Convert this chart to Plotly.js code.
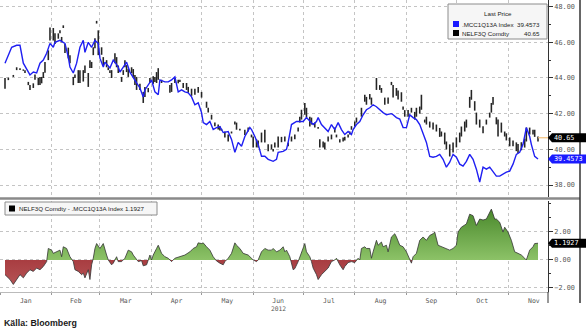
<!DOCTYPE html>
<html><head><meta charset="utf-8">
<script src="https://cdn.plot.ly/plotly-3.0.1.min.js"></script>
<style>html,body{margin:0;padding:0;background:#fff;}#chart{width:586px;height:333px;}</style>
</head><body><div id="chart"></div><script>
const YEAR = '2012';
const mccName = '.MCC1Q13A Index';
const nelfName = 'NELF3Q Comdty';
const mccLast = 39.4573;
const nelfLast = 40.65;
const spreadLast = 1.1927;
const sourceText = 'Källa: Bloomberg';

const mccDates = ['01-04','01-08','01-11','01-13','01-15','01-18','01-19','01-21','01-23','01-25','01-27','01-29','01-31',
'02-02','02-03','02-06','02-08','02-09','02-11','02-12','02-14','02-16','02-18','02-20','02-21','02-23','02-25','02-27','02-29',
'03-01','03-03','03-04','03-07','03-09','03-10','03-12','03-13','03-15','03-17','03-19','03-21','03-23','03-25','03-27','03-28','03-30',
'04-01','04-03','04-05','04-06','04-09','04-11','04-13','04-15','04-17','04-19','04-21','04-23','04-25','04-27','04-29',
'05-01','05-02','05-04','05-06','05-08','05-10','05-12','05-14','05-17','05-19','05-21','05-23','05-25','05-27','05-30','05-31',
'06-02','06-04','06-06','06-08','06-10','06-13','06-15','06-16','06-19','06-21','06-22','06-24','06-27','06-29',
'07-01','07-03','07-05','07-07','07-09','07-10','07-12','07-14','07-16','07-18','07-20','07-22','07-24','07-26','07-28','07-30','07-31',
'08-02','08-04','08-06','08-08','08-10','08-12','08-14','08-16','08-18','08-20','08-23','08-24','08-26','08-28','08-30',
'09-01','09-03','09-05','09-07','09-09','09-11','09-13','09-15','09-17','09-19','09-21','09-23','09-25','09-27','09-29',
'10-01','10-03','10-05','10-07','10-09','10-11','10-13','10-15','10-17','10-19','10-21','10-23','10-25','10-27','10-29','10-31',
'11-02','11-04','11-06','11-08','11-10','11-12','11-14','11-15','11-17','11-19'];
const mccValues = [44.83,45.72,45.83,45.83,44.83,44.33,44.17,44.33,44.28,44.83,45.0,45.39,45.94,
45.72,46.0,46.11,46.0,45.94,45.17,44.61,44.28,44.83,45.72,46.11,45.44,46.0,45.72,46.11,45.94,
45.11,44.61,44.89,44.56,45.0,44.89,44.61,44.33,44.61,44.89,44.33,44.06,43.72,43.44,42.94,43.33,43.61,
43.89,43.22,43.06,43.89,43.78,43.78,43.89,44.06,43.22,43.33,43.22,43.17,42.94,42.5,42.61,
42.06,41.5,41.39,41.56,41.11,41.22,41.28,40.94,41.0,40.56,39.83,40.39,40.17,40.72,41.22,41.11,
40.72,40.28,39.61,39.61,39.44,39.33,39.44,39.83,39.89,40.0,40.39,41.39,41.56,41.56,
41.56,41.78,41.56,41.39,41.56,41.78,41.39,41.22,41.0,41.39,41.11,41.5,41.11,40.83,41.0,40.83,41.11,
41.39,41.56,41.94,42.22,42.33,42.5,42.39,42.22,42.06,41.94,42.0,41.94,41.78,41.7,41.22,
41.22,41.94,41.78,41.67,41.39,40.94,40.39,39.61,39.56,39.61,39.72,39.44,39.0,39.28,39.72,
39.56,39.17,39.06,39.33,39.72,39.44,38.89,38.17,39.0,38.89,39.0,38.78,38.5,38.5,38.61,38.72,
38.78,39.17,39.72,39.83,40.28,41.22,40.72,40.28,39.61,39.4573];

const nelfDates = ['01-04','01-06','01-09','01-11','01-13','01-15','01-16','01-18','01-19','01-21','01-22','01-24','01-25','01-26','01-27','01-28','01-30','01-31',
'02-02','02-03','02-05','02-06','02-07','02-08','02-09','02-11','02-12','02-14','02-15','02-17','02-18','02-20','02-21','02-23','02-24','02-25','02-26','02-27','02-28','02-29',
'03-02','03-03','03-05','03-06','03-07','03-08','03-10','03-11','03-12','03-14','03-15','03-16','03-17','03-18','03-20','03-21','03-22','03-23','03-25','03-27','03-28','03-30','03-31',
'04-02','04-03','04-04','04-05','04-07','04-12','04-13','04-15','04-17','04-18','04-20','04-22','04-23','04-25','04-27','04-29',
'05-01','05-04','05-05','05-07','05-09','05-11','05-12','05-13','05-15','05-17','05-19','05-21','05-22','05-24','05-27','05-29','05-31',
'06-01','06-03','06-04','06-06','06-08','06-10','06-12','06-13','06-14','06-16','06-18','06-20','06-22','06-24','06-26','06-28','06-29','06-30',
'07-02','07-03','07-05','07-06','07-08','07-10','07-11','07-13','07-14','07-16','07-18','07-20','07-21','07-23','07-25','07-26','07-28','07-29','07-30',
'08-01','08-02','08-05','08-07','08-08','08-10','08-11','08-14','08-16','08-17','08-19','08-21','08-23','08-24','08-26','08-27','08-29','08-30','08-31',
'09-02','09-04','09-06','09-07','09-09','09-10','09-12','09-13','09-15','09-17','09-19','09-21','09-22','09-24','09-25','09-27','09-29',
'10-01','10-03','10-04','10-06','10-07','10-09','10-10','10-12','10-13','10-15','10-17','10-19','10-21','10-22','10-23','10-25','10-26','10-28','10-30','10-31',
'11-02','11-04','11-06','11-07','11-09','11-11','11-12','11-14','11-16','11-17','11-19'];
const nelfLow = [43.40,43.88,44.06,44.44,44.45,44.40,44.28,43.60,43.33,43.44,43.90,43.60,43.60,43.70,44.00,44.30,45.00,46.10,
46.10,45.90,46.20,46.50,46.00,46.80,45.40,45.10,44.83,43.60,44.00,43.72,43.72,43.80,44.28,43.50,44.56,44.56,45.28,45.67,47.05,45.28,
45.30,44.72,44.60,44.44,44.28,44.00,44.83,44.60,44.28,43.78,44.17,44.60,44.33,44.06,44.28,44.06,43.60,43.33,43.33,42.60,42.94,43.20,43.72,
43.67,43.78,43.72,43.90,43.72,43.17,43.22,43.72,43.70,43.78,43.44,43.33,43.17,43.00,43.06,43.17,
42.90,42.33,42.06,41.67,41.30,41.11,41.05,41.05,40.67,40.44,40.89,41.39,41.10,41.05,40.80,41.00,40.67,
40.11,40.11,40.10,40.39,40.39,39.90,40.00,39.88,40.11,40.10,40.40,40.44,40.17,40.44,40.56,41.00,41.50,41.67,
41.94,41.78,41.28,41.39,41.22,41.15,40.11,40.11,40.00,40.44,40.56,40.94,40.67,40.39,40.44,40.50,40.67,40.83,41.10,
41.28,41.50,41.83,42.67,42.50,42.80,42.50,43.33,43.33,43.17,42.50,42.55,43.60,42.90,43.00,42.80,42.67,42.22,41.83,
41.83,42.06,41.67,41.83,42.00,42.22,41.50,41.39,41.22,41.11,41.00,40.70,40.72,40.28,40.00,39.60,39.83,
40.11,40.39,40.72,41.00,41.22,42.33,42.78,42.17,41.39,41.22,40.90,41.39,41.78,42.06,42.50,41.40,40.72,40.94,40.72,40.50,
40.17,40.17,39.90,39.80,39.95,40.10,40.44,40.83,40.83,40.70,40.44];
const nelfHigh = [44.00,44.02,44.17,44.60,44.55,44.48,44.44,43.78,43.60,43.70,44.20,44.00,44.06,44.06,44.33,44.90,45.55,46.83,
46.80,46.50,46.50,46.67,46.30,46.95,45.90,45.70,45.28,44.06,44.20,44.44,44.44,44.44,44.70,44.28,45.00,44.90,45.72,46.22,47.20,46.67,
45.72,45.17,45.00,44.60,44.44,44.44,45.39,45.17,44.70,44.06,44.44,45.00,44.72,44.50,44.60,44.50,44.17,44.06,43.67,43.22,43.50,43.44,44.00,
44.10,44.06,44.33,44.55,43.90,43.60,43.72,44.00,43.90,43.90,43.72,43.72,43.50,43.40,43.40,43.50,
43.22,42.67,42.33,41.94,41.50,41.39,41.30,41.15,41.00,40.83,41.00,41.56,41.50,41.15,41.10,41.22,40.83,
40.72,40.56,40.50,40.94,41.10,40.28,40.28,40.02,40.39,40.72,40.70,40.72,40.39,40.72,40.83,41.22,41.83,42.22,
42.60,42.33,41.83,41.78,41.50,41.25,40.56,40.44,40.39,40.72,40.83,41.22,40.83,40.56,40.67,40.70,40.83,41.00,41.30,
41.56,41.78,42.33,43.06,42.94,43.10,42.90,44.00,43.60,43.44,42.90,42.90,43.78,43.60,43.44,43.30,43.20,42.40,42.20,
42.20,42.33,42.10,42.33,42.40,43.06,41.67,41.83,41.56,41.50,41.39,41.20,41.00,40.94,40.44,40.28,40.39,
40.67,40.94,41.28,41.56,41.67,42.94,43.33,42.70,42.06,41.67,41.30,41.67,42.06,42.60,42.94,41.80,41.67,41.50,41.00,40.90,
40.67,40.50,40.39,40.30,40.40,40.60,41.22,41.22,41.10,41.10,40.72];

const spreadDates = ['01-04','01-07','01-09','01-11','01-13','01-15','01-17','01-19','01-21','01-23','01-25','01-27','01-29','01-30',
'02-01','02-02','02-04','02-06','02-07','02-08','02-10','02-12','02-14','02-15','02-17','02-19','02-20','02-21','02-23','02-24','02-25','02-26','02-27','02-28',
'03-01','03-03','03-05','03-06','03-08','03-09','03-11','03-12','03-14','03-16','03-18','03-20','03-21','03-23','03-24','03-26','03-27','03-29','03-30','03-31',
'04-01','04-02','04-04','04-05','04-07','04-09','04-11','04-13','04-15','04-18','04-21','04-24','04-26','04-28','04-29',
'05-01','05-02','05-04','05-06','05-08','05-10','05-12','05-14','05-15','05-17','05-19','05-21','05-22','05-24','05-26','05-28','05-29',
'06-01','06-03','06-04','06-06','06-08','06-10','06-12','06-13','06-15','06-17','06-19','06-20','06-21','06-23','06-25','06-26','06-28','06-30',
'07-02','07-03','07-05','07-06','07-07','07-09','07-10','07-12','07-14','07-16','07-18','07-20','07-21','07-23','07-25','07-26','07-28','07-30',
'08-01','08-03','08-04','08-05','08-07','08-08','08-10','08-11','08-12','08-14','08-15','08-17','08-18','08-20','08-21','08-22','08-23','08-25','08-26','08-28','08-30',
'09-01','09-03','09-04','09-05','09-07','09-09','09-11','09-13','09-15','09-17','09-18','09-20','09-22','09-24','09-27','09-29',
'10-01','10-02','10-04','10-07','10-09','10-11','10-13','10-15','10-17','10-19','10-22','10-24','10-25','10-27','10-29','10-30',
'11-01','11-03','11-05','11-07','11-09','11-11','11-12','11-14','11-16','11-17','11-19'];
const spreadValues = [-1.05,-1.40,-1.75,-1.40,-1.05,-1.28,-0.94,-0.70,-0.82,-0.58,-0.70,-0.47,-0.12,0.82,
0.70,0.47,0.58,0.70,0.23,0.94,0.82,0.23,-0.12,-0.70,-0.82,-1.05,-0.94,-1.28,-0.70,-1.40,-0.35,0.12,0.82,1.17,
0.82,1.17,0.35,0.00,-0.35,-0.23,0.23,-0.12,-0.12,0.12,0.70,0.58,0.35,0.00,-0.12,-0.05,-0.42,-0.35,0.00,0.35,
0.00,0.35,0.82,1.05,0.47,0.23,0.12,-0.12,0.12,0.23,0.35,0.58,0.82,0.94,1.22,
1.17,1.22,0.94,0.70,0.23,-0.07,-0.23,-0.35,-0.12,0.12,0.47,1.22,1.05,0.82,0.47,0.35,0.35,
0.00,-0.12,0.00,0.58,0.82,0.70,0.70,0.82,0.58,0.70,0.94,0.58,0.70,0.23,-0.70,-0.62,-0.12,0.47,
1.17,0.58,0.23,-0.12,-0.58,-1.05,-1.40,-1.05,-0.82,-0.58,-0.12,0.00,0.12,-0.35,-0.70,-0.47,-0.19,-0.12,
-0.19,0.12,0.00,0.82,0.94,0.82,0.82,0.12,0.58,1.40,1.05,1.28,0.94,1.05,0.58,1.05,1.64,1.87,1.64,1.05,0.94,
0.58,0.00,-0.23,0.23,0.47,1.40,1.64,1.40,1.75,1.87,1.99,1.05,0.94,0.82,0.70,0.82,
1.05,1.99,2.34,2.57,3.27,3.16,2.46,2.92,2.85,2.92,3.63,2.92,2.92,2.69,1.99,2.34,
1.99,1.40,0.58,0.47,0.35,0.12,0.00,0.70,0.94,1.17,1.1927];

const topTickStart = 38, topTickStep = 2;
const bottomTickVals = [-2, 0, 2];

// ---- layout geometry (pixels of the 586x333 frame) ----
const PW = 548, PH = 292;
const px = x => x / PW;
const py = y => (PH - y) / PH;
const d = s => YEAR + '-' + s;
const xStart = d('01-01'), xEnd = d('11-25');
const DAY = 86400000;
const GRID = '#c4c4c4';
const TICKFONT = {family: 'DejaVu Sans Mono, monospace', size: 6.8, color: '#555'};
const LEGFONT = {family: 'Liberation Sans, Arial, sans-serif', size: 6.2, color: '#222'};

const traces = [
  {type: 'bar', x: nelfDates.map(d), base: nelfLow, y: nelfHigh.map((h, i) => h - nelfLow[i]),
   width: 0.95 * DAY, marker: {color: '#262626', line: {width: 0}}, xaxis: 'x', yaxis: 'y', hoverinfo: 'skip'},
  {type: 'scatter', mode: 'lines', x: mccDates.map(d), y: mccValues,
   line: {color: '#1f1ff2', width: 1.4}, xaxis: 'x', yaxis: 'y', hoverinfo: 'skip'},
  {type: 'scatter', mode: 'lines', x: spreadDates.map(d), y: spreadValues, fill: 'tozeroy',
   fillgradient: {type: 'vertical', start: -3.6, stop: 3.6,
     colorscale: [[0, '#c26a6a'], [0.499, '#a83d41'], [0.501, '#8cc267'], [1, '#4a892c']]},
   line: {color: '#333', width: 0.8}, xaxis: 'x2', yaxis: 'y2', hoverinfo: 'skip'}
];

const lastNelfDate = d(nelfDates[nelfDates.length - 1]);
const tagPath = 'M0,0 L4,4.5 L40,4.5 L40,-4.5 L4,-4.5 Z';
const shapes = [
  {type: 'line', xref: 'paper', yref: 'paper', x0: 0, x1: px(580), y0: py(198.5), y1: py(198.5),
   line: {color: '#8a8a8a', width: 2.5}},
  {type: 'line', xref: 'paper', yref: 'paper', x0: px(580), x1: px(580), y0: py(303), y1: 1,
   line: {color: '#333', width: 1.5}},
  {type: 'line', xref: 'paper', yref: 'paper', x0: 1, x1: 1, y0: py(303), y1: py(292),
   line: {color: '#333', width: 1}},
  {type: 'line', xref: 'x', yref: 'y', x0: lastNelfDate, x1: xEnd, y0: nelfLast, y1: nelfLast,
   line: {color: '#f3c27c', width: 1.2}},
  {type: 'path', xref: 'paper', xsizemode: 'pixel', xanchor: 1, yref: 'y', ysizemode: 'pixel', yanchor: nelfLast,
   path: tagPath, fillcolor: '#000', line: {width: 0}},
  {type: 'path', xref: 'paper', xsizemode: 'pixel', xanchor: 1, yref: 'y', ysizemode: 'pixel', yanchor: mccLast,
   path: tagPath, fillcolor: '#1a1aff', line: {width: 0}},
  {type: 'path', xref: 'paper', xsizemode: 'pixel', xanchor: 1, yref: 'y2', ysizemode: 'pixel', yanchor: spreadLast,
   path: tagPath, fillcolor: '#000', line: {width: 0}},
  // top legend box
  {type: 'rect', xref: 'paper', yref: 'paper', x0: px(448), x1: px(547), y0: py(39), y1: py(4),
   fillcolor: '#f6f6f6', line: {color: '#8c8c8c', width: 1}, layer: 'above'},
  {type: 'rect', xref: 'paper', yref: 'paper', x0: px(453), x1: px(459), y0: py(27), y1: py(21),
   fillcolor: '#1a1aff', line: {width: 0}, layer: 'above'},
  {type: 'rect', xref: 'paper', yref: 'paper', x0: px(453), x1: px(459), y0: py(36), y1: py(30),
   fillcolor: '#000', line: {width: 0}, layer: 'above'},
  // bottom legend box
  {type: 'rect', xref: 'paper', yref: 'paper', x0: px(5), x1: px(157), y0: py(215), y1: py(202),
   fillcolor: '#f6f6f6', line: {color: '#8c8c8c', width: 1}, layer: 'above'},
  {type: 'rect', xref: 'paper', yref: 'paper', x0: px(9), x1: px(15), y0: py(211.5), y1: py(205.5),
   fillcolor: '#000', line: {width: 0}, layer: 'above'}
];

const tagFont = {family: 'DejaVu Sans Mono, monospace', size: 6.8, color: '#fff'};
const annotations = [
  {xref: 'paper', yref: 'y', x: 1, y: nelfLast, xanchor: 'left', yanchor: 'middle', xshift: 4,
   text: nelfLast.toFixed(2), showarrow: false, font: tagFont},
  {xref: 'paper', yref: 'y', x: 1, y: mccLast, xanchor: 'left', yanchor: 'middle', xshift: 4,
   text: mccLast.toFixed(4), showarrow: false, font: tagFont},
  {xref: 'paper', yref: 'y2', x: 1, y: spreadLast, xanchor: 'left', yanchor: 'middle', xshift: 4,
   text: spreadLast.toFixed(4), showarrow: false, font: tagFont},
  {xref: 'paper', yref: 'paper', x: px(498), y: py(14), xanchor: 'center', yanchor: 'middle',
   text: 'Last Price', showarrow: false, font: LEGFONT},
  {xref: 'paper', yref: 'paper', x: px(459.5), y: py(24), xanchor: 'left', yanchor: 'middle',
   text: mccName, showarrow: false, font: LEGFONT},
  {xref: 'paper', yref: 'paper', x: px(542), y: py(24), xanchor: 'right', yanchor: 'middle',
   text: mccLast.toFixed(4), showarrow: false, font: LEGFONT},
  {xref: 'paper', yref: 'paper', x: px(459.5), y: py(33), xanchor: 'left', yanchor: 'middle',
   text: nelfName, showarrow: false, font: LEGFONT},
  {xref: 'paper', yref: 'paper', x: px(542), y: py(33), xanchor: 'right', yanchor: 'middle',
   text: nelfLast.toFixed(2), showarrow: false, font: LEGFONT},
  {xref: 'paper', yref: 'paper', x: px(17), y: py(208.5), xanchor: 'left', yanchor: 'middle',
   text: nelfName + ' - ' + mccName + ' ' + spreadLast.toFixed(4), showarrow: false, font: LEGFONT},
  {xref: 'x2', yref: 'paper', x: d('06-16'), y: py(309), xanchor: 'center', yanchor: 'middle',
   text: YEAR, showarrow: false, font: {family: TICKFONT.family, size: 6.3, color: '#555'}},
  {xref: 'paper', yref: 'paper', x: px(2), y: py(323), xanchor: 'left', yanchor: 'middle',
   text: sourceText, showarrow: false,
   font: {family: 'Liberation Sans, Arial, sans-serif', size: 8.8, color: '#1a1a1a', weight: 'bold'}}
];

const xCommon = {type: 'date', range: [xStart, xEnd], tick0: d('01-01'), dtick: 'M1',
  showgrid: true, gridcolor: GRID, griddash: 'dot', gridwidth: 1, zeroline: false, fixedrange: true};

const layout = {
  width: 586, height: 333,
  margin: {l: 0, r: 38, t: 0, b: 41, pad: 0},
  paper_bgcolor: '#fff', plot_bgcolor: '#fff',
  showlegend: false,
  xaxis: Object.assign({}, xCommon, {anchor: 'y', domain: [0, 1], showticklabels: false, ticks: ''}),
  xaxis2: Object.assign({}, xCommon, {anchor: 'y2', domain: [0, 1], matches: 'x',
    ticklabelmode: 'period', tickformat: '%b', ticks: 'outside', ticklen: 2, tickcolor: '#999',
    ticklabelstandoff: 0,
    showline: true, linecolor: '#bbb', linewidth: 1, tickfont: {family: TICKFONT.family, size: 6.5, color: '#555'}}),
  yaxis: {domain: [py(197), 1], range: [37.33, 48.37], side: 'right', anchor: 'x',
    tickmode: 'linear', tick0: topTickStart, dtick: topTickStep, tickformat: '.2f',
    ticks: 'outside', ticklen: 4, tickcolor: '#333', showline: true, linecolor: '#333', linewidth: 1,
    showgrid: true, gridcolor: GRID, griddash: 'dot', zeroline: false, tickfont: TICKFONT,
    minor: {dtick: 1, ticklen: 2, tickcolor: '#333', showgrid: false}, fixedrange: true},
  yaxis2: {domain: [0, py(201)], range: [-2.29, 4.21], side: 'right', anchor: 'x2',
    tickmode: 'array', tickvals: bottomTickVals, tickformat: '.2f',
    ticks: 'outside', ticklen: 4, tickcolor: '#333', showline: true, linecolor: '#333', linewidth: 1,
    showgrid: true, gridcolor: GRID, griddash: 'dot', zeroline: false, tickfont: TICKFONT,
    minor: {tickmode: 'linear', tick0: 0, dtick: 1, ticklen: 2, tickcolor: '#333', showgrid: false}, fixedrange: true},
  shapes: shapes,
  annotations: annotations
};

Plotly.newPlot('chart', traces, layout, {displayModeBar: false, staticPlot: true});
</script></body></html>
